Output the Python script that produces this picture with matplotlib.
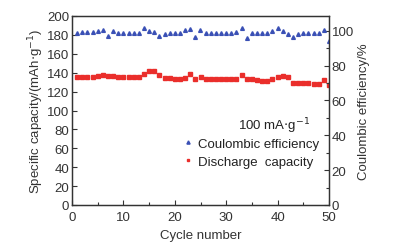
import matplotlib
matplotlib.use("Agg")
import matplotlib.pyplot as plt
from matplotlib.ticker import MultipleLocator

plt.rcParams['font.family'] = ['Liberation Sans', 'DejaVu Sans']

cycles = list(range(1, 51))
capacity = [135.8, 135.8, 135.8, 135.1, 136.5, 137.9, 136.8, 136.5, 135.1, 135.1,
            135.1, 135.1, 135.1, 138.3, 141.5, 141.5, 137.2, 134.0, 134.0, 133.3,
            133.0, 134.0, 138.3, 133.0, 135.8, 133.7, 133.0, 133.0, 133.0, 133.0,
            133.0, 133.0, 137.6, 133.7, 133.0, 132.3, 131.6, 131.6, 133.0, 135.1,
            136.2, 135.1, 129.4, 129.4, 129.1, 128.8, 128.0, 127.7, 132.0, 127.0]
efficiency = [98.7, 99.3, 99.3, 99.1, 99.8, 100.4, 97.1, 99.6, 98.5, 98.7,
              98.7, 98.7, 98.7, 101.5, 99.6, 99.3, 96.8, 98.3, 98.9, 98.7,
              98.5, 100.4, 100.8, 96.2, 100.2, 98.7, 98.5, 98.5, 98.7, 98.7,
              98.7, 99.1, 101.5, 95.6, 98.7, 98.7, 98.7, 98.7, 99.6, 101.3,
              99.6, 97.9, 96.5, 98.1, 98.5, 98.5, 98.5, 98.5, 100.6, 93.9]

fig = plt.figure(figsize=(3.99, 2.53), dpi=100)
ax = fig.add_axes([72/399, 47/253, 257/399, 189/253])
ax2 = ax.twinx()

red = '#ea2e2b'
blue = '#3a50b5'
h2, = ax2.plot(cycles, efficiency, linestyle='none', marker='^', ms=2.7, color=blue,
               label='Coulombic efficiency')
h1, = ax.plot(cycles, capacity, linestyle='none', marker='s', ms=2.3, color=red,
              label='Discharge  capacity')

ax.set_xlim(0, 50)
ax.set_ylim(0, 200)
ax2.set_ylim(0, 108.4)
ax.xaxis.set_major_locator(MultipleLocator(10))
ax.xaxis.set_minor_locator(MultipleLocator(5))
ax.yaxis.set_major_locator(MultipleLocator(20))
ax2.yaxis.set_major_locator(MultipleLocator(20))
ax2.yaxis.set_minor_locator(MultipleLocator(10))

fs = 9.5
for a in (ax, ax2):
    a.tick_params(which='both', direction='in', labelsize=fs, colors='#333333',
                  labelcolor='#333333', width=0.8)
    a.tick_params(which='major', length=3.5, pad=2)
    a.tick_params(which='minor', length=2)
    for s in a.spines.values():
        s.set_color('#333333')
        s.set_linewidth(0.9)
ax.tick_params(axis='x', which='major', pad=4)
ax.set_yticks(range(0, 201, 20))
ax2.set_yticks(range(0, 101, 20))

ax.set_xlabel('Cycle number', fontsize=fs, color='#333333', labelpad=5)
ax.set_ylabel('Specific capacity/(mAh$\\cdot$g$^{-1}$)', fontsize=fs, color='#333333', labelpad=1)
ax2.set_ylabel('Coulombic efficiency/%', fontsize=fs, color='#333333', labelpad=3)

ax.text(0.927, 0.42, '100 mA$\\cdot$g$^{-1}$', transform=ax.transAxes, ha='right',
        va='center', fontsize=fs, color='#222222')
leg = ax.legend([h2, h1], ['Coulombic efficiency', 'Discharge  capacity'],
                loc='upper left', bbox_to_anchor=(0.415, 0.385), frameon=False,
                fontsize=fs, handlelength=0.6, handletextpad=0.5,
                labelspacing=0.45, borderaxespad=0, markerscale=0.85)
for t in leg.get_texts():
    t.set_color('#222222')

fig.savefig('out.png', dpi=100)
